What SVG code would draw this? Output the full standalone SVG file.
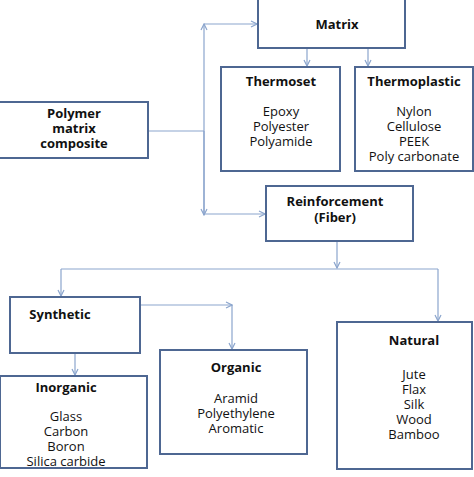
<svg xmlns="http://www.w3.org/2000/svg" width="474" height="477" viewBox="0 0 474 477">
<style>
.box{fill:#fff;stroke:#4e6792;stroke-width:2}
.c{fill:none;stroke:#8ba5cd;stroke-width:1.2}
text{font-family:"Open Sans","Liberation Sans",sans-serif;font-size:13px;fill:#111;text-anchor:middle}
.b{font-weight:bold}
</style>
<defs>
<marker id="a" markerWidth="8" markerHeight="8" refX="7" refY="4" orient="auto" markerUnits="userSpaceOnUse">
<path d="M1,1 L7,4 L1,7" fill="none" stroke="#8ba5cd" stroke-width="1.2"/>
</marker>
</defs>
<rect width="474" height="477" fill="#fff"/>
<g id="connectors">
<line class="c" x1="148" y1="131" x2="204" y2="131"/>
<line class="c" x1="204" y1="215" x2="204" y2="24" marker-end="url(#a)"/>
<line class="c" x1="204" y1="131" x2="204" y2="215" marker-end="url(#a)"/>
<line class="c" x1="204" y1="24" x2="257" y2="24" marker-end="url(#a)"/>
<line class="c" x1="204" y1="214" x2="265" y2="214" marker-end="url(#a)"/>
<line class="c" x1="307" y1="48" x2="307" y2="66" marker-end="url(#a)"/>
<line class="c" x1="368" y1="48" x2="368" y2="66" marker-end="url(#a)"/>
<line class="c" x1="337" y1="241" x2="337" y2="268" marker-end="url(#a)"/>
<line class="c" x1="61" y1="269" x2="438" y2="269"/>
<line class="c" x1="61" y1="269" x2="61" y2="296" marker-end="url(#a)"/>
<line class="c" x1="438" y1="269" x2="438" y2="321" marker-end="url(#a)"/>
<line class="c" x1="140" y1="305" x2="232" y2="305" marker-end="url(#a)"/>
<line class="c" x1="232" y1="305" x2="232" y2="349" marker-end="url(#a)"/>
<line class="c" x1="75" y1="353" x2="75" y2="375" marker-end="url(#a)"/>
</g>
<g id="matrix">
<rect class="box" x="258" y="-2" width="147" height="50"/>
<text class="b" x="337" y="29">Matrix</text>
</g>
<g id="thermoset">
<rect class="box" x="221" y="67" width="119" height="104"/>
<text class="b" x="281" y="86">Thermoset</text>
<text x="281" y="116">Epoxy</text>
<text x="281" y="131">Polyester</text>
<text x="281" y="146">Polyamide</text>
</g>
<g id="thermoplastic">
<rect class="box" x="355" y="67" width="118" height="104"/>
<text class="b" x="414" y="86">Thermoplastic</text>
<text x="414" y="116">Nylon</text>
<text x="414" y="131">Cellulose</text>
<text x="414" y="146">PEEK</text>
<text x="414" y="161">Poly carbonate</text>
</g>
<g id="pmc">
<rect class="box" x="-1" y="102" width="149" height="56"/>
<text class="b" x="74" y="118">Polymer</text>
<text class="b" x="74" y="133">matrix</text>
<text class="b" x="74" y="148">composite</text>
</g>
<g id="reinforcement">
<rect class="box" x="266" y="186" width="147" height="55"/>
<text class="b" x="335" y="206">Reinforcement</text>
<text class="b" x="335" y="222">(Fiber)</text>
</g>
<g id="synthetic">
<rect class="box" x="10" y="297" width="130" height="56"/>
<text class="b" x="60" y="319">Synthetic</text>
</g>
<g id="organic">
<rect class="box" x="160" y="350" width="147" height="104"/>
<text class="b" x="236" y="372">Organic</text>
<text x="236" y="403">Aramid</text>
<text x="236" y="418">Polyethylene</text>
<text x="236" y="433">Aromatic</text>
</g>
<g id="inorganic">
<rect class="box" x="0" y="376" width="147" height="92"/>
<text class="b" x="66" y="392">Inorganic</text>
<text x="66" y="421">Glass</text>
<text x="66" y="436">Carbon</text>
<text x="66" y="451">Boron</text>
<text x="66" y="466">Silica carbide</text>
</g>
<g id="natural">
<rect class="box" x="337" y="322" width="135" height="147"/>
<text class="b" x="414" y="345">Natural</text>
<text x="414" y="379">Jute</text>
<text x="414" y="394">Flax</text>
<text x="414" y="409">Silk</text>
<text x="414" y="424">Wood</text>
<text x="414" y="439">Bamboo</text>
</g>
</svg>
